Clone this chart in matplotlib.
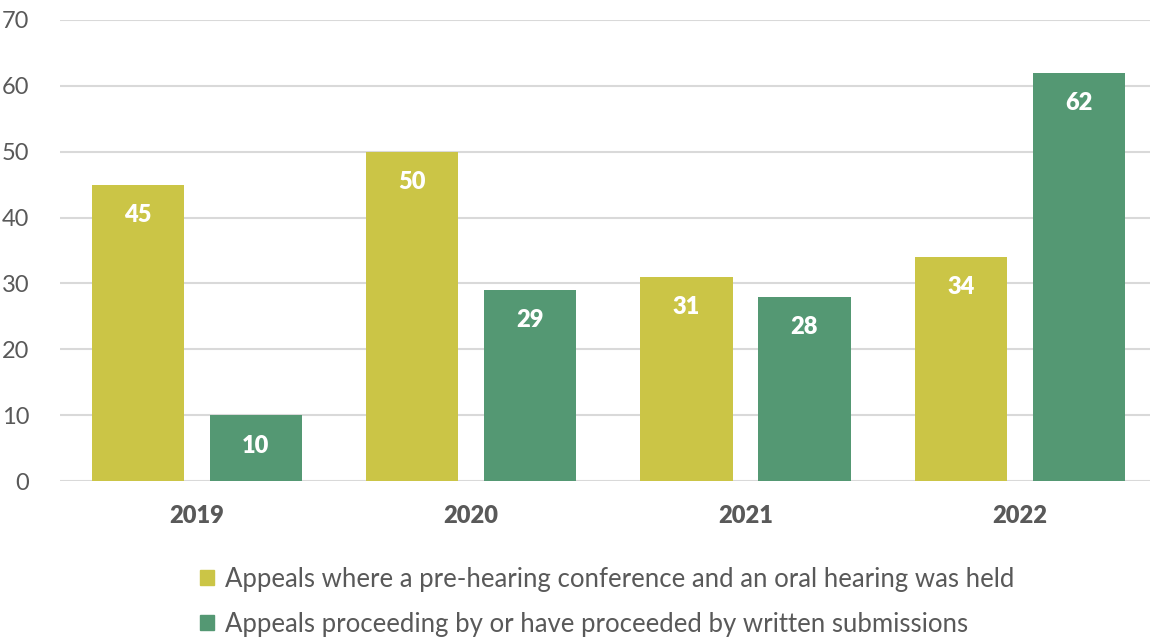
import numpy as np
import matplotlib.pyplot as plt
from matplotlib.patches import Patch

# DATA
years = ["2019", "2020", "2021", "2022"]
oral_hearing = [45, 50, 31, 34]
written = [10, 29, 28, 62]
series_labels = [
    "Appeals where a pre-hearing conference and an oral hearing was held",
    "Appeals proceeding by or have proceeded by written submissions",
]

YELLOW = "#CBC546"
GREEN = "#549873"
TEXT = "#595959"

plt.rcParams["font.family"] = ["Lato", "DejaVu Sans"]

fig = plt.figure(figsize=(11.5, 6.39), dpi=100)
ax = fig.add_axes([0.052, 0.247, 0.954, 0.722])

x = np.arange(len(years))
width = 0.336
offset = 0.215

bars1 = ax.bar(x - offset, oral_hearing, width, color=YELLOW, zorder=3)
bars2 = ax.bar(x + offset, written, width, color=GREEN, zorder=3)

#value labels inside the bars
for bars in (bars1, bars2):
    for b in bars:
        h = b.get_height()
        ax.text(b.get_x() + b.get_width() / 2, h - 4.6, f"{h:g}",
                ha="center", va="center", color="white",
                fontsize=17, fontweight="heavy", zorder=4)

ax.set_xlim(-0.5, 3.5)
ax.set_ylim(0, 70)
ax.set_yticks(range(0, 71, 10))
ax.set_xticks(x)
ax.set_xticklabels(years, fontsize=17, fontweight="heavy", color=TEXT)
ax.tick_params(axis="y", labelsize=17, labelcolor=TEXT, length=0, pad=22)
ax.tick_params(axis="x", length=0, pad=17)

ax.grid(axis="y", color="#D9D9D9", linewidth=1.5, zorder=0)
for s in ax.spines.values():
    s.set_visible(False)

handles = [Patch(color=YELLOW), Patch(color=GREEN)]
fig.legend(handles, series_labels, loc="upper left", bbox_to_anchor=(0.174, 0.113),
           ncol=1, frameon=False, fontsize=18.5, labelcolor=TEXT,
           handlelength=0.55, handleheight=0.55, handletextpad=0.4,
           labelspacing=0.78, borderpad=0, borderaxespad=0)

fig.savefig("out.png", dpi=100)
